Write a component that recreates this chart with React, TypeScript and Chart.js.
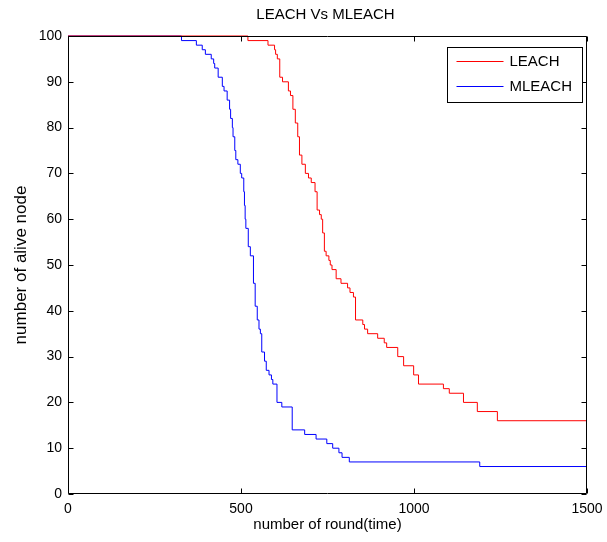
import React, { useEffect, useRef } from 'react';
import { Chart, registerables } from 'chart.js';

Chart.register(...registerables);

const FONT = '"Liberation Sans", Arial, Helvetica, sans-serif';

const chartTitle = 'LEACH Vs MLEACH';
const xAxisTitle = 'number of round(time)';
const yAxisTitle = 'number of alive node';
const seriesNames = ['LEACH', 'MLEACH'];
const seriesColors = ['#ff0000', '#0000ff'];

const xTicks = [0, 500, 1000, 1500];
const yTicks = [0, 10, 20, 30, 40, 50, 60, 70, 80, 90, 100];

// LEACH: round at which the alive count changes, and the new count
const leachRounds = [0, 520, 578, 597, 600, 605, 612, 620, 637, 643, 650, 657, 664, 669, 676, 686, 695, 703, 714, 720, 727, 732, 736, 741, 746, 754, 758, 763, 775, 789, 808, 815, 825, 831, 852, 857, 866, 895, 914, 921, 953, 970, 999, 1013, 1085, 1102, 1143, 1183, 1241, 1500];
const leachAlive = [100, 99, 98, 97, 96, 95, 91, 90, 88, 87, 84, 81, 78, 74, 72, 70, 69, 68, 66, 62, 61, 60, 57, 53, 52, 51, 50, 49, 47, 46, 45, 44, 43, 38, 37, 36, 35, 34, 33, 32, 30, 28, 26, 24, 23, 22, 20, 18, 16, 16];

// MLEACH
const mleachRounds = [0, 328, 371, 388, 397, 414, 421, 424, 434, 446, 451, 460, 467, 470, 475, 477, 482, 485, 491, 498, 502, 508, 510, 512, 514, 521, 527, 536, 541, 547, 552, 556, 560, 568, 573, 581, 588, 592, 604, 618, 648, 684, 717, 748, 765, 783, 792, 813, 1190, 1500];
const mleachAlive = [100, 99, 98, 97, 96, 95, 94, 93, 91, 89, 88, 86, 84, 82, 80, 78, 75, 73, 72, 70, 69, 66, 63, 60, 58, 54, 52, 46, 41, 38, 36, 35, 31, 29, 27, 26, 25, 24, 20, 19, 14, 13, 12, 11, 10, 9, 8, 7, 6, 6];

const toPoints = (xs: number[], ys: number[]) => xs.map((x, i) => ({ x, y: ys[i] }));

const decorPlugin = {
  id: 'decor',
  afterDraw(chart: any) {
    const { ctx, chartArea: a, scales } = chart;
    const xs = scales.x;
    const ys = scales.y;
    ctx.save();
    ctx.strokeStyle = '#000';
    ctx.lineWidth = 1;
    const L = Math.round(a.left) + 0.5;
    const R = Math.round(a.right) - 0.5;
    const T = Math.round(a.top) + 0.5;
    const B = Math.round(a.bottom) - 0.5;
    ctx.beginPath();
    ctx.rect(L, T, R - L, B - T);
    ctx.stroke();
    const tl = 5;
    ctx.beginPath();
    xTicks.forEach((v) => {
      const px = Math.round(xs.getPixelForValue(v)) + 0.5;
      ctx.moveTo(px, B);
      ctx.lineTo(px, B - tl);
      ctx.moveTo(px, T);
      ctx.lineTo(px, T + tl);
    });
    yTicks.forEach((v) => {
      const py = Math.round(ys.getPixelForValue(v)) + 0.5;
      ctx.moveTo(L, py);
      ctx.lineTo(L + tl, py);
      ctx.moveTo(R, py);
      ctx.lineTo(R - tl, py);
    });
    ctx.stroke();

    ctx.fillStyle = '#000';
    ctx.font = `15px ${FONT}`;
    ctx.textAlign = 'center';
    ctx.textBaseline = 'middle';
    ctx.fillText(chartTitle, (a.left + a.right) / 2 - 2, 15);

    const bx = Math.round(a.right) - 140 + 0.5;
    const by = Math.round(a.top) + 11 + 0.5;
    const bw = 135;
    const bh = 55;
    ctx.fillStyle = '#fff';
    ctx.fillRect(bx, by, bw, bh);
    ctx.strokeStyle = '#000';
    ctx.strokeRect(bx, by, bw, bh);
    seriesNames.forEach((name, i) => {
      const ly = by + 13 + i * 25.5;
      ctx.strokeStyle = seriesColors[i];
      ctx.beginPath();
      ctx.moveTo(bx + 9, Math.round(ly) + 0.5);
      ctx.lineTo(bx + 56, Math.round(ly) + 0.5);
      ctx.stroke();
      ctx.fillStyle = '#000';
      ctx.font = `15px ${FONT}`;
      ctx.textAlign = 'left';
      ctx.textBaseline = 'middle';
      ctx.fillText(name, bx + 62, ly + 1);
    });
    ctx.restore();
  },
};

export default function App() {
  const ref = useRef<HTMLCanvasElement | null>(null);
  useEffect(() => {
    if (!ref.current) return;
    const chart = new Chart(ref.current, {
      type: 'line',
      data: {
        datasets: [
          {
            label: seriesNames[0],
            data: toPoints(leachRounds, leachAlive),
            borderColor: seriesColors[0],
            borderWidth: 1,
            pointRadius: 0,
            stepped: 'before',
            fill: false,
            clip: false as any,
          },
          {
            label: seriesNames[1],
            data: toPoints(mleachRounds, mleachAlive),
            borderColor: seriesColors[1],
            borderWidth: 1,
            pointRadius: 0,
            stepped: 'before',
            fill: false,
            clip: false as any,
          },
        ],
      },
      options: {
        animation: false,
        responsive: true,
        maintainAspectRatio: false,
        layout: { padding: { top: 36, right: 20, left: 0, bottom: 0 } },
        plugins: { legend: { display: false }, title: { display: false }, tooltip: { enabled: false } },
        scales: {
          x: {
            type: 'linear',
            min: 0,
            max: 1500,
            afterBuildTicks: (s: any) => {
              s.ticks = xTicks.map((v) => ({ value: v }));
            },
            afterFit: (s: any) => {
              s.height = 48;
              s.paddingLeft = 0;
              s.paddingRight = 0;
            },
            grid: { display: false, drawTicks: false },
            border: { display: false },
            ticks: {
              color: '#000',
              font: { size: 14, family: FONT },
              padding: 7,
              maxRotation: 0,
              callback: (v: any) => String(v),
            },
            title: {
              display: true,
              text: xAxisTitle,
              color: '#000',
              font: { size: 15, family: FONT },
              padding: { top: 0, bottom: 8 },
            },
          },
          y: {
            type: 'linear',
            min: 0,
            max: 100,
            afterBuildTicks: (s: any) => {
              s.ticks = yTicks.map((v) => ({ value: v }));
            },
            afterFit: (s: any) => {
              s.width = 68;
              s.paddingTop = 0;
              s.paddingBottom = 0;
            },
            grid: { display: false, drawTicks: false },
            border: { display: false },
            ticks: { color: '#000', font: { size: 14, family: FONT }, padding: 6, callback: (v: any) => String(v) },
            title: {
              display: true,
              text: yAxisTitle,
              color: '#000',
              font: { size: 17, family: FONT },
              padding: { top: 11, bottom: 0 },
            },
          },
        },
      },
      plugins: [decorPlugin],
    });
    return () => chart.destroy();
  }, []);
  return (
    <div style={{ position: 'fixed', left: 0, top: 0, width: 607, height: 542, background: '#fff' }}>
      <canvas ref={ref} />
    </div>
  );
}
